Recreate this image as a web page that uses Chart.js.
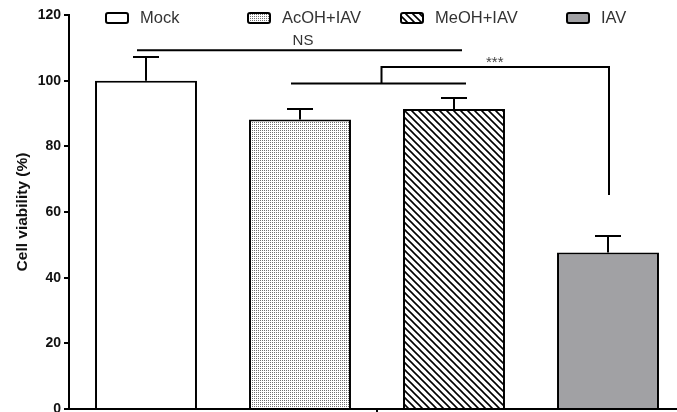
<!DOCTYPE html>
<html>
<head>
<meta charset="utf-8">
<script src="https://cdn.jsdelivr.net/npm/chart.js@4.4.1/dist/chart.umd.min.js"></script>
<style>
  html, body { margin: 0; padding: 0; background: #fff; overflow: hidden; }
  #wrap { width: 677px; height: 412px; overflow: hidden; position: relative; }
  canvas { display: block; }
</style>
</head>
<body>
<div id="wrap"><canvas id="chart" width="690" height="430"></canvas></div>
<script>
// data
const groups = ['Mock', 'AcOH+IAV', 'MeOH+IAV', 'IAV'];
const viability = [100, 88.2, 91.4, 47.7];
const errUp = [7.2, 3.2, 3.3, 5.0];
const yTicks = [0, 20, 40, 60, 80, 100, 120];

// significance annotations (y in % units)
const nsLevel = 109.3;
const nsTextLevel = 112.2;
const lowBracketLevel = 99.1;
const highBracketLevel = 104.2;
const iavDropLevel = 65.2;
const starTextLevel = 106.2;

const FONT = 'Arial, "Liberation Sans", sans-serif';

function dotPattern() {
  const c = document.createElement('canvas');
  c.width = 2; c.height = 2;
  const g = c.getContext('2d');
  g.fillStyle = '#fff'; g.fillRect(0, 0, 2, 2);
  g.fillStyle = '#707070'; g.fillRect(0, 0, 1, 1);
  return g.createPattern(c, 'repeat');
}

function hatchPattern() {
  const s = 7;
  const c = document.createElement('canvas');
  c.width = s; c.height = s;
  const g = c.getContext('2d');
  g.fillStyle = '#fff'; g.fillRect(0, 0, s, s);
  g.strokeStyle = '#000'; g.lineWidth = 1.6;
  g.beginPath();
  g.moveTo(-1, -1); g.lineTo(s + 1, s + 1);
  g.moveTo(-1, s - 1); g.lineTo(1, s + 1);
  g.moveTo(s - 1, -1); g.lineTo(s + 1, 1);
  g.stroke();
  return g.createPattern(c, 'repeat');
}

const fills = ['#ffffff', dotPattern(), hatchPattern(), '#a1a1a4'];

const errorBars = {
  id: 'errorBars',
  afterDatasetsDraw(chart) {
    const ctx = chart.ctx, y = chart.scales.y;
    ctx.save();
    ctx.strokeStyle = '#000';
    ctx.lineWidth = 2;
    chart.data.datasets.forEach((ds, i) => {
      const bar = chart.getDatasetMeta(i).data[0];
      const top = y.getPixelForValue(viability[i] + errUp[i]);
      ctx.beginPath();
      ctx.moveTo(bar.x, bar.y);
      ctx.lineTo(bar.x, top);
      ctx.moveTo(bar.x - 13, top);
      ctx.lineTo(bar.x + 13, top);
      ctx.stroke();
    });
    ctx.restore();
  }
};

const brackets = {
  id: 'brackets',
  afterDraw(chart) {
    const ctx = chart.ctx, y = chart.scales.y;
    const bx = i => chart.getDatasetMeta(i).data[0].x;
    ctx.save();
    ctx.strokeStyle = '#000';
    ctx.lineWidth = 2;
    // NS line over Mock .. MeOH+IAV
    const nsY = y.getPixelForValue(nsLevel);
    ctx.beginPath();
    ctx.moveTo(bx(0) - 9, nsY);
    ctx.lineTo(bx(2) + 8, nsY);
    // lower bracket over the two treated groups
    const lowY = y.getPixelForValue(lowBracketLevel);
    const lx0 = bx(1) - 9, lx1 = bx(2) + 12;
    const stemX = (lx0 + lx1) / 2 + 3;
    ctx.moveTo(lx0, lowY);
    ctx.lineTo(lx1, lowY);
    const highY = y.getPixelForValue(highBracketLevel);
    ctx.moveTo(stemX, lowY);
    ctx.lineTo(stemX, highY);
    ctx.lineTo(bx(3) + 1, highY);
    ctx.lineTo(bx(3) + 1, y.getPixelForValue(iavDropLevel));
    ctx.stroke();

    ctx.fillStyle = '#333';
    ctx.textAlign = 'center';
    ctx.textBaseline = 'middle';
    ctx.font = '15px ' + FONT;
    ctx.fillText('NS', (bx(0) + bx(2)) / 2 + 3, y.getPixelForValue(nsTextLevel));
    ctx.fillStyle = '#444';
    ctx.font = '15px ' + FONT;
    ctx.fillText('***', (stemX + bx(3)) / 2, y.getPixelForValue(starTextLevel) + 3);
    ctx.restore();
  }
};

const topLegend = {
  id: 'topLegend',
  afterDraw(chart) {
    const ctx = chart.ctx;
    const xs = [106, 248, 401, 567];
    ctx.save();
    ctx.font = '16.5px ' + FONT;
    ctx.textBaseline = 'middle';
    ctx.textAlign = 'left';
    groups.forEach((g, i) => {
      const x = xs[i], yc = 18;
      ctx.beginPath();
      ctx.roundRect(x, yc - 5, 22, 10, 2);
      ctx.fillStyle = fills[i];
      ctx.fill();
      ctx.lineWidth = 2;
      ctx.strokeStyle = '#000';
      ctx.stroke();
      ctx.fillStyle = '#333';
      ctx.fillText(g, x + 34, yc);
    });
    ctx.restore();
  }
};

new Chart(document.getElementById('chart'), {
  type: 'bar',
  data: {
    labels: [''],
    datasets: groups.map((g, i) => ({
      label: g,
      data: [viability[i]],
      backgroundColor: fills[i],
      borderColor: '#000',
      borderWidth: 2,
      barPercentage: 0.662,
      categoryPercentage: 1.0
    }))
  },
  options: {
    responsive: false,
    animation: false,
    devicePixelRatio: 1,
    layout: { padding: { top: 15, right: 5, left: 0, bottom: 0 } },
    plugins: {
      legend: { display: false },
      tooltip: { enabled: false }
    },
    scales: {
      x: {
        grid: { display: true, drawOnChartArea: false, drawTicks: true, tickLength: 6, offset: false, color: '#000', lineWidth: 2 },
        border: { display: true, color: '#000', width: 2 },
        ticks: { display: true, padding: 0, font: { size: 1 } },
        afterFit(scale) { scale.height = 21; }
      },
      y: {
        min: 0,
        max: 120,
        afterBuildTicks(scale) { scale.ticks = yTicks.map(v => ({ value: v })); },
        grid: { display: true, drawOnChartArea: false, drawTicks: true, tickLength: 5, color: '#000', lineWidth: 2 },
        border: { display: true, color: '#000', width: 2 },
        ticks: {
          color: '#111',
          padding: 3,
          font: { family: FONT, size: 14, weight: 'bold' }
        },
        title: {
          display: true,
          text: 'Cell viability (%)',
          color: '#111',
          padding: { top: 13, bottom: 0 },
          font: { family: FONT, size: 15.5, weight: 'bold' }
        },
        afterFit(scale) { scale.width = 69; }
      }
    }
  },
  plugins: [errorBars, brackets, topLegend]
});
</script>
</body>
</html>
